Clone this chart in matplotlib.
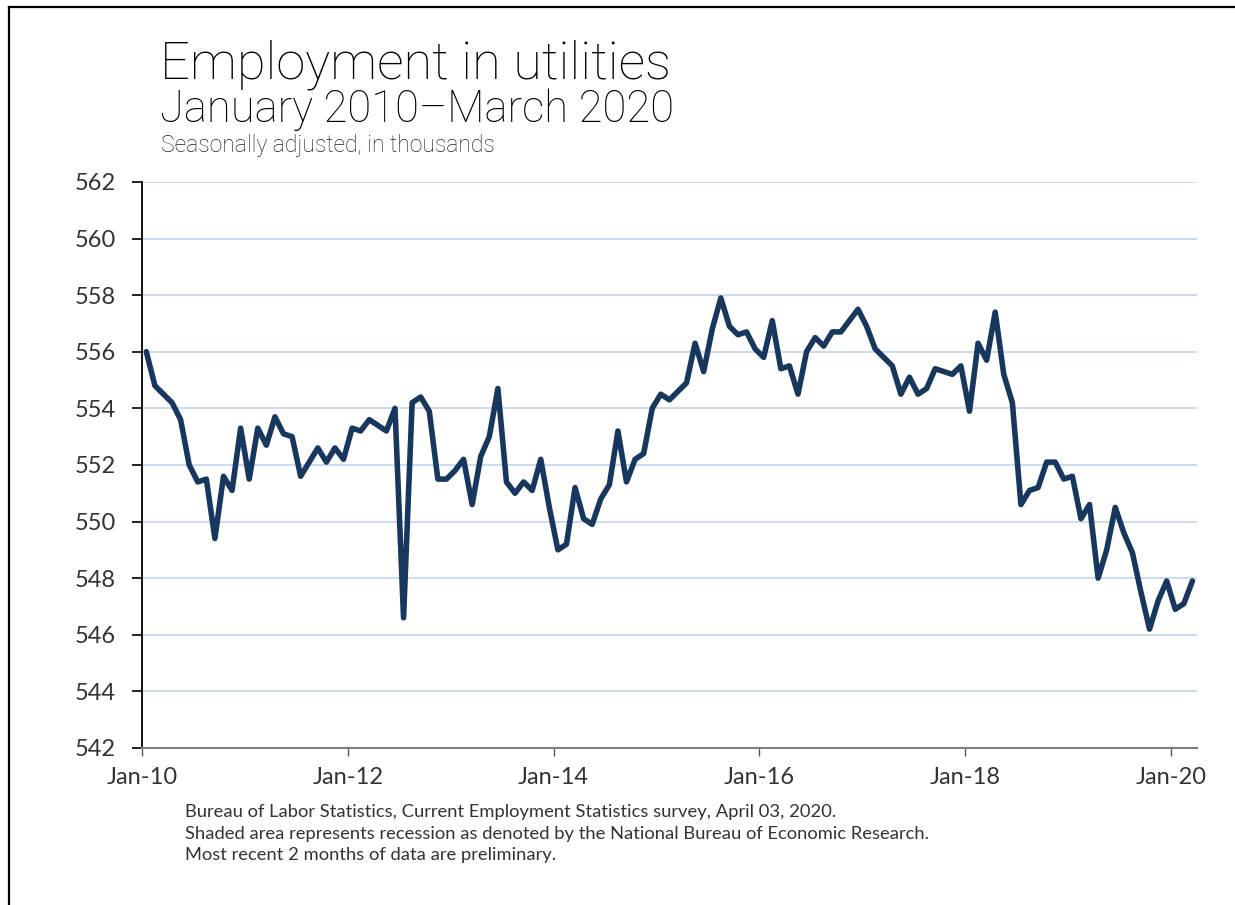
import numpy as np
import matplotlib.pyplot as plt
from matplotlib.lines import Line2D

# Employment in utilities, monthly, Jan 2010 - Mar 2020 (thousands, SA)
values = [
    556.0, 554.8, 554.5, 554.2, 553.6, 552.0, 551.4, 551.5, 549.4, 551.6, 551.1, 553.3,  # 2010
    551.5, 553.3, 552.7, 553.7, 553.1, 553.0, 551.6, 552.1, 552.6, 552.1, 552.6, 552.2,  # 2011
    553.3, 553.2, 553.6, 553.4, 553.2, 554.0, 546.6, 554.2, 554.4, 553.9, 551.5, 551.5,  # 2012
    551.8, 552.2, 550.6, 552.3, 553.0, 554.7, 551.4, 551.0, 551.4, 551.1, 552.2, 550.5,  # 2013
    549.0, 549.2, 551.2, 550.1, 549.9, 550.8, 551.3, 553.2, 551.4, 552.2, 552.4, 554.0,  # 2014
    554.5, 554.3, 554.6, 554.9, 556.3, 555.3, 556.8, 557.9, 556.9, 556.6, 556.7, 556.1,  # 2015
    555.8, 557.1, 555.4, 555.5, 554.5, 556.0, 556.5, 556.2, 556.7, 556.7, 557.1, 557.5,  # 2016
    556.9, 556.1, 555.8, 555.5, 554.5, 555.1, 554.5, 554.7, 555.4, 555.3, 555.2, 555.5,  # 2017
    553.9, 556.3, 555.7, 557.4, 555.2, 554.2, 550.6, 551.1, 551.2, 552.1, 552.1, 551.5,  # 2018
    551.6, 550.1, 550.6, 548.0, 549.0, 550.5, 549.6, 548.9, 547.5, 546.2, 547.2, 547.9,  # 2019
    546.9, 547.1, 547.9,  # 2020
]
tick_labels = ['Jan-10', 'Jan-12', 'Jan-14', 'Jan-16', 'Jan-18', 'Jan-20']
y_ticks = [542, 544, 546, 548, 550, 552, 554, 556, 558, 560, 562]

plt.rcParams['font.family'] = ['Lato', 'DejaVu Sans']

fig = plt.figure(figsize=(12.35, 9.05), dpi=100)
ax = fig.add_axes([0.115, 0.1735, 0.854, 0.6255])

x = np.arange(len(values)) + 0.5
ax.plot(x, values, color='#17375e', linewidth=4.0, solid_joinstyle='round',
        solid_capstyle='round', zorder=3)

ax.set_xlim(0, len(values))
ax.set_ylim(542, 562)
ax.set_yticks(y_ticks)
ax.set_yticklabels([str(v) for v in y_ticks])
ax.set_xticks(np.arange(0, len(values), 24))
ax.set_xticklabels(tick_labels)

ax.grid(axis='y', color='#c6d9f1', linewidth=1.3)
ax.set_axisbelow(True)
for s in ['top', 'right']:
    ax.spines[s].set_visible(False)
ax.spines['left'].set_color('black')
ax.spines['left'].set_linewidth(1.3)
ax.spines['bottom'].set_color('#7f7f7f')
ax.spines['bottom'].set_linewidth(1.5)

ax.tick_params(axis='y', length=7, width=1.2, color='black', pad=12,
               labelsize=17, labelcolor='#333333')
ax.tick_params(axis='x', length=6, width=1.0, color='#555555', pad=8,
               labelsize=17, labelcolor='#333333')

# titles
title_font = ['Roboto', 'DejaVu Sans']
fig.text(160 / 1235, 1 - 78 / 905, 'Employment in utilities', fontsize=37.7,
         family=title_font, fontweight='light', color='black', va='baseline')
fig.text(160 / 1235, 1 - 122 / 905, 'January 2010\u2013March 2020', fontsize=31.4,
         family=title_font, fontweight='light', color='black', va='baseline')
fig.text(161 / 1235, 1 - 152 / 905, 'Seasonally adjusted, in thousands',
         fontsize=16.5, family=title_font, fontweight='light', color='#222222',
         va='baseline')

notes = [
    'Bureau of Labor Statistics, Current Employment Statistics survey, April 03, 2020.',
    'Shaded area represents recession as denoted by the National Bureau of Economic Research.',
    'Most recent 2 months of data are preliminary.',
]
for k, note in enumerate(notes):
    fig.text(185 / 1235, 1 - (817 + 21.5 * k) / 905, note, fontsize=13.2,
             color='#333333', va='baseline')

# frame lines along top and left edge
fig.add_artist(Line2D([9 / 1235, 9 / 1235], [0, 1 - 7 / 905], color='black',
                      linewidth=1.6, transform=fig.transFigure))
fig.add_artist(Line2D([9 / 1235, 1], [1 - 7 / 905, 1 - 7 / 905], color='black',
                      linewidth=1.6, transform=fig.transFigure))

fig.savefig('out.png', dpi=100)
